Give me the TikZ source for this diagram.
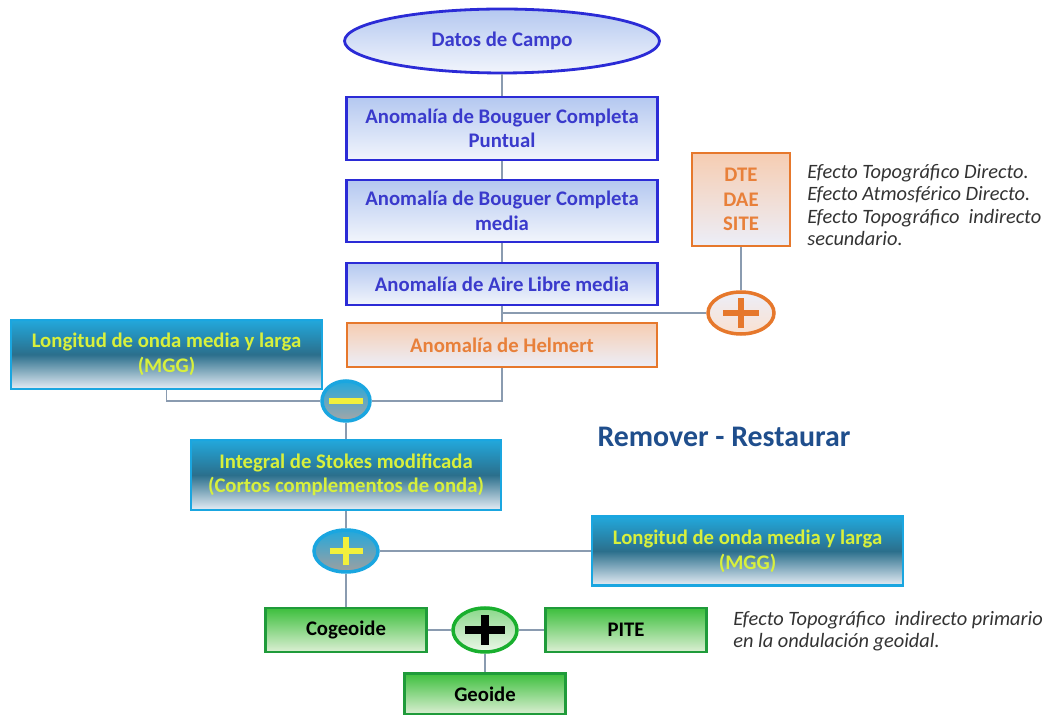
\documentclass[tikz,border=0pt]{standalone}
\usepackage{fontspec}
\setmainfont{Carlito}
\usetikzlibrary{shapes.geometric}
\definecolor{bluB}{HTML}{2B2BD6}
\definecolor{bluT}{HTML}{B4C8F0}
\definecolor{bluBot}{HTML}{F2F5FC}
\definecolor{bluTx}{HTML}{3A3ACC}
\definecolor{orB}{HTML}{E6782C}
\definecolor{orT}{HTML}{F6CDB2}
\definecolor{orBot}{HTML}{ECEEF8}
\definecolor{orTx}{HTML}{E8803A}
\definecolor{cyB}{HTML}{1AA6E0}
\definecolor{cyT}{HTML}{22A8DC}
\definecolor{cyM}{HTML}{2B6F8C}
\definecolor{cyBot}{HTML}{E6EDF5}
\definecolor{cyTx}{HTML}{D8F03C}
\definecolor{grB}{HTML}{1F9B3A}
\definecolor{grT}{HTML}{3DBF3D}
\definecolor{grBot}{HTML}{DCEFD4}
\definecolor{conC}{HTML}{8A9BB0}
\definecolor{rrC}{HTML}{1F4E8C}
\definecolor{noteC}{HTML}{333333}
\definecolor{plY}{HTML}{F2F03C}
\begin{document}
\begin{tikzpicture}[x=0.02cm,y=-0.02cm,
  boxfont/.style={font=\bfseries\fontsize{11.8}{14}\selectfont},
  blubox/.style={draw=bluB, line width=1.4pt, top color=bluT, bottom color=bluBot, text=bluTx, boxfont, align=center, inner sep=0pt, minimum width=6.22cm},
  orbox/.style={draw=orB, line width=1.4pt, top color=orT, bottom color=orBot, text=orTx, boxfont, align=center, inner sep=0pt},
  cybox/.style={draw=cyB, line width=1.4pt, top color=cyT, bottom color=cyBot, middle color=cyM, text=cyTx, boxfont, align=center, inner sep=0pt, minimum width=6.22cm, minimum height=1.38cm},
  grbox/.style={draw=grB, line width=1.4pt, top color=grT, bottom color=grBot, text=black, boxfont, align=center, inner sep=0pt, minimum width=3.22cm, minimum height=0.88cm},
  ellbox/.style={ellipse, draw=bluB, line width=1.6pt, top color=bluT, bottom color=bluBot, text=bluTx, boxfont, inner sep=0pt},
  opc/.style={ellipse, inner sep=0pt, line width=2pt},
  conn/.style={draw=conC, line width=0.9pt},
  note/.style={font=\itshape\fontsize{11.6}{12.8}\selectfont, text=noteC, align=left, inner sep=0pt, anchor=north west}
]
\useasboundingbox (0,0) rectangle (1057,715);

% main column
\node[ellbox, minimum width=6.3cm, minimum height=1.28cm] (ell) at (502,41) {Datos de Campo};
\node[blubox, minimum height=1.26cm] (b1) at (502,128.5) {Anomalía de Bouguer Completa\\Puntual};
\node[blubox, minimum height=1.24cm] (b2) at (502,211) {Anomalía de Bouguer Completa\\media};
\node[blubox, minimum height=0.84cm] (b3) at (502,284) {Anomalía de Aire Libre media};
\node[orbox, minimum width=6.2cm, minimum height=0.88cm] (b4) at (502,345) {Anomalía de Helmert};
\node[orbox, minimum width=1.96cm, minimum height=1.86cm] (dte) at (741,199.5) {DTE\\DAE\\SITE};

\node[cybox] (lw1) at (166.5,354.5) {Longitud de onda media y larga\\(MGG)};
\node[cybox, minimum width=6.2cm, minimum height=1.4cm] (stk) at (346,475) {Integral de Stokes modificada\\(Cortos complementos de onda)};
\node[cybox] (lw2) at (747.5,551) {Longitud de onda media y larga\\(MGG)};

\node[grbox] (cog) at (346,630) {Cogeoide};
\node[grbox] (pite) at (626,630) {PITE};
\node[grbox, minimum height=0.82cm] (geo) at (485,694) {Geoide};

% operator circles
\node[opc, draw=orB, top color=orBot, bottom color=orT!60, minimum width=1.32cm, minimum height=0.84cm] (pO) at (741,313) {};
\node[opc, draw=cyB, top color=cyT, bottom color=gray!70, minimum width=0.96cm, minimum height=0.8cm] (mn) at (346,401) {};
\node[opc, draw=cyB, top color=cyT, bottom color=gray!75, minimum width=1.28cm, minimum height=0.84cm] (pY) at (346,551) {};
\node[opc, draw=grB!80!green, top color=grT!60, bottom color=grBot!50!white, minimum width=1.28cm, minimum height=0.88cm] (pK) at (485,630) {};

% symbols
\draw[orB, line width=3.4pt] ([xshift=-0.36cm]pO.center) -- ([xshift=0.36cm]pO.center);
\draw[orB, line width=3.4pt] ([yshift=-0.3cm]pO.center) -- ([yshift=0.3cm]pO.center);
\draw[plY, line width=3pt] ([xshift=-0.34cm]mn.center) -- ([xshift=0.34cm]mn.center);
\draw[plY, line width=3.4pt] ([xshift=-0.33cm]pY.center) -- ([xshift=0.33cm]pY.center);
\draw[plY, line width=3.4pt] ([yshift=-0.28cm]pY.center) -- ([yshift=0.28cm]pY.center);
\draw[black, line width=4.8pt] ([xshift=-0.4cm]pK.center) -- ([xshift=0.4cm]pK.center);
\draw[black, line width=4.8pt] ([yshift=-0.3cm]pK.center) -- ([yshift=0.3cm]pK.center);

% connectors
\draw[conn] (ell) -- (b1);
\draw[conn] (b1) -- (b2);
\draw[conn] (b2) -- (b3);
\draw[conn] (b3) -- (b4);
\coordinate (j1) at (502,313);
\draw[conn] (j1) -- (pO.west);
\draw[conn] (dte) -- (pO);
\draw[conn] (lw1.south) |- (mn.west);
\draw[conn] (b4.south) |- (mn.east);
\draw[conn] (mn) -- (stk);
\draw[conn] (stk) -- (pY);
\draw[conn] (pY.east) -- (pY.east -| lw2.west);
\draw[conn] (pY) -- (cog);
\draw[conn] (cog) -- (pK);
\draw[conn] (pK) -- (pite);
\draw[conn] (pK) -- (geo);

% texts
\node[note] (n1) at (807,164) {Efecto Topográfico Directo.\\Efecto Atmosférico Directo.\\Efecto Topográfico\ \ indirecto\\secundario.};
\node[note] (n2) at (733,611) {Efecto Topográfico\ \ indirecto primario\\en la ondulación geoidal.};
\node[font=\bfseries\fontsize{17}{20}\selectfont, text=rrC, inner sep=0pt] (rr) at (724,437) {Remover - Restaurar};
\end{tikzpicture}
\end{document}
